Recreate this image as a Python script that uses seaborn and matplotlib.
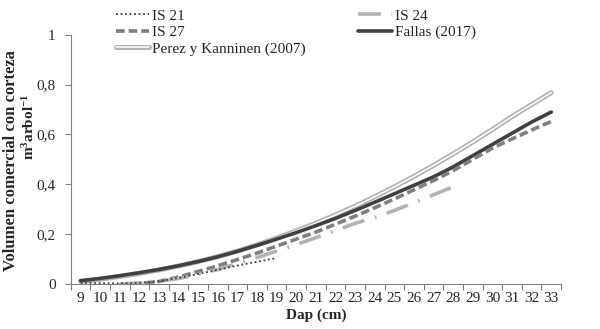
import numpy as np
import pandas as pd
import matplotlib
matplotlib.use("Agg")
import matplotlib.pyplot as plt
import seaborn as sns
from matplotlib.lines import Line2D
from matplotlib.ticker import FuncFormatter

# Datos (volumen comercial con corteza, m3/arbol)
dap = list(range(9, 34))

is21_dap = list(range(9, 20))
is21 = [0.005, 0.003, 0.002, 0.004, 0.011, 0.024, 0.04, 0.057, 0.074, 0.089, 0.104]

is24_dap = list(range(11, 29))
is24 = [0.0, 0.003, 0.01, 0.022, 0.038, 0.058, 0.082, 0.106, 0.132, 0.158,
        0.186, 0.215, 0.243, 0.267, 0.295, 0.326, 0.358, 0.39]

is27_dap = list(range(11, 34))
is27 = [0.0, 0.002, 0.01, 0.028, 0.05, 0.073, 0.098, 0.124, 0.152, 0.18,
        0.208, 0.24, 0.272, 0.306, 0.341, 0.378, 0.415, 0.455, 0.5, 0.545,
        0.582, 0.618, 0.652]

fallas = [0.013, 0.022, 0.033, 0.045, 0.058, 0.073, 0.09, 0.109, 0.131, 0.155,
          0.18, 0.206, 0.234, 0.263, 0.295, 0.328, 0.362, 0.396, 0.43, 0.47,
          0.515, 0.56, 0.605, 0.65, 0.69]

perez = [0.01, 0.019, 0.03, 0.042, 0.056, 0.072, 0.09, 0.11, 0.132, 0.157,
         0.184, 0.213, 0.244, 0.277, 0.312, 0.35, 0.39, 0.432, 0.476, 0.522,
         0.57, 0.62, 0.672, 0.72, 0.768]

sns.set_style("white")
plt.rcParams['font.family'] = ['Liberation Serif', 'DejaVu Serif']
plt.rcParams['mathtext.fontset'] = 'custom'
plt.rcParams['mathtext.rm'] = 'Liberation Serif:bold'
plt.rcParams['mathtext.bf'] = 'Liberation Serif:bold'
plt.rcParams['mathtext.default'] = 'bf'

fig = plt.figure(figsize=(6, 3.29), dpi=100)
ax = fig.add_axes([0.118, 0.137, 0.817, 0.757])

dark = '#404040'
mid = '#7f7f7f'
light = '#b3b3b3'

# Perez y Kanninen: linea doble (gris con centro blanco)
sns.lineplot(x=dap, y=perez, ax=ax, color=light, lw=3.6)
sns.lineplot(x=dap, y=perez, ax=ax, color='white', lw=1.1)
sns.lineplot(x=dap, y=fallas, ax=ax, color=dark, lw=2.6)
l27 = sns.lineplot(x=is27_dap, y=is27, ax=ax, color=mid, lw=2.6).lines[-1]
l27.set_dashes((2.4, 1.1))
l24 = sns.lineplot(x=is24_dap, y=is24, ax=ax, color=light, lw=2.6).lines[-1]
l24.set_dashes((6.3, 3.0, 0.5, 3.0))
l21 = sns.lineplot(x=is21_dap, y=is21, ax=ax, color=dark, lw=1.3).lines[-1]
l21.set_dashes((1, 1.5))

ax.set_xlim(8.5, 33.5)
ax.set_ylim(0, 1)
ax.set_xticks(dap)
ax.set_xticklabels([str(d) for d in dap], fontsize=11)
ax.set_xticks(np.arange(8.5, 34.0, 1.0), minor=True)
ax.tick_params(axis='x', which='major', length=0, pad=6)
ax.tick_params(axis='x', which='minor', length=4, color='#808080', width=0.8)
ax.set_yticks(np.arange(0, 1.01, 0.2))
ax.yaxis.set_major_formatter(FuncFormatter(lambda v, p: ('%g' % round(v, 1)).replace('.', ',')))
ax.tick_params(axis='y', length=4, color='#808080', width=0.8, labelsize=11, pad=7)
ax.tick_params(axis='both', direction='out')
ax.xaxis.set_ticks_position('bottom')
ax.yaxis.set_ticks_position('left')
for s in ['top', 'right']:
    ax.spines[s].set_visible(False)
for s in ['left', 'bottom']:
    ax.spines[s].set_color('#808080')
    ax.spines[s].set_linewidth(0.8)

ax.set_xlabel('Dap (cm)', fontsize=11, fontweight='bold', labelpad=2)
fig.text(0.018, 0.511, 'Volumen comercial con corteza', rotation=90,
         ha='center', va='center', fontsize=12, fontweight='bold')
fig.text(0.049, 0.614, r'm$^{3}$arbol$^{-1}$', rotation=90,
         ha='center', va='center', fontsize=11, fontweight='bold')

h21 = Line2D([], [], color=dark, lw=1.3, dashes=(1, 1.5))
h27 = Line2D([], [], color=mid, lw=2.6, dashes=(2.4, 1.1))
hpz = (Line2D([], [], color=light, lw=3.6), Line2D([], [], color='white', lw=1.1))
h24 = Line2D([], [], color=light, lw=2.6, dashes=(6.3, 3.0, 0.5, 3.0))
hfa = Line2D([], [], color=dark, lw=2.6)
fig.legend([h21, h27, hpz, h24, hfa],
           ['IS 21', 'IS 27', 'Perez y Kanninen (2007)', 'IS 24', 'Fallas (2017)'],
           ncol=2, loc='upper left', bbox_to_anchor=(0.193, 0.973), frameon=False,
           fontsize=11, handlelength=2.2, handletextpad=0.2, labelspacing=0.18,
           columnspacing=3.4, borderpad=0, borderaxespad=0)

fig.savefig('out.png', dpi=100)
